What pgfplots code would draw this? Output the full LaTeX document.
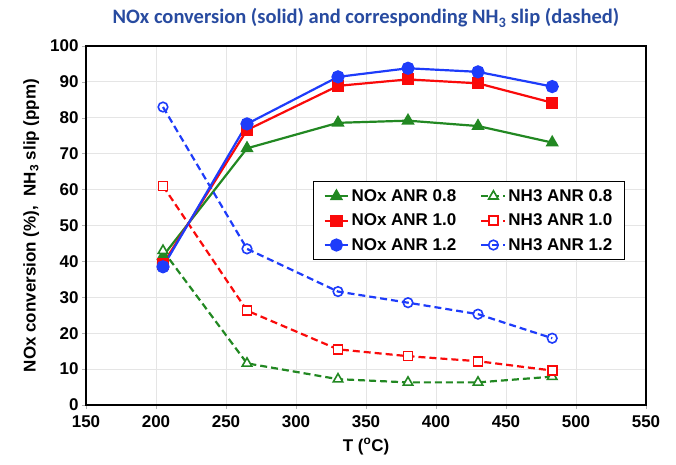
\documentclass[border=0pt]{standalone}
\usepackage{fontspec}
\setmainfont{Liberation Sans}
\newfontfamily\titlefont{Carlito}
\usepackage{pgfplots}
\pgfplotsset{compat=1.18}
\definecolor{cgreen}{RGB}{34,136,34}
\definecolor{cred}{RGB}{250,10,10}
\definecolor{cblue}{RGB}{30,60,250}
\definecolor{ctitle}{RGB}{40,75,160}
\begin{document}
\begin{tikzpicture}
\begin{axis}[
  scale only axis, width=560pt, height=359pt,
  xmin=150, xmax=550, ymin=0, ymax=100,
  xtick distance=50, ytick distance=10,
  grid=major, major grid style={gray!20, line width=0.8pt},
  axis line style={line width=1.6pt, black},
  tick style={gray!60, line width=0.6pt}, tick align=outside, major tick length=4pt,
  xtick pos=bottom, ytick pos=left,
  /pgf/number format/assume math mode=true,
  ticklabel style={font=\fontsize{17}{20}\selectfont\bfseries},
  xticklabel style={yshift=-3pt},
  xlabel={T (\textsuperscript{o}C)},
  ylabel={NOx conversion (\%),\ \ NH\textsubscript{3} slip (ppm)},
  label style={font=\fontsize{17}{20}\selectfont\bfseries},
  xlabel style={yshift=-4pt},
  ylabel style={yshift=4pt},
  title={\titlefont\bfseries\color{ctitle}NOx conversion (solid) and corresponding NH\textsubscript{3} slip (dashed)},
  title style={font=\fontsize{20.5}{24}\selectfont, yshift=9pt},
  legend columns=2,
  legend style={at={(0.405,0.624)}, anchor=north west, draw=black, line width=1.2pt,
    font=\fontsize{17}{20}\selectfont\bfseries, row sep=7pt,
    /tikz/every even column/.append style={column sep=22pt},
    inner xsep=10pt, inner ysep=6pt},
  legend cell align=left,
  legend image code/.code={
    \draw[mark repeat=2, mark phase=2] plot coordinates {(0cm,0cm) (0.42cm,0cm) (0.84cm,0cm)};},
  every axis plot/.append style={line width=2.2pt},
]
\addplot[cgreen, mark=triangle*, mark size=5.5pt, mark options={solid}] coordinates {
 (205,41.5) (265,71.5) (330,78.6) (380,79.2) (430,77.7) (483,73.1)};
\addlegendentry{NOx ANR 0.8}
\addplot[cgreen, dash pattern=on 7pt off 4pt, mark=triangle*, mark size=5.5pt, mark options={solid, fill=white, line width=1.6pt}] coordinates {
 (205,43) (265,11.6) (330,7.2) (380,6.3) (430,6.3) (483,7.9)};
\addlegendentry{NH3 ANR 0.8}
\addplot[cred, mark=square*, mark size=5pt, mark options={solid}] coordinates {
 (205,39.3) (265,76.6) (330,88.9) (380,90.7) (430,89.6) (483,84.2)};
\addlegendentry{NOx ANR 1.0}
\addplot[cred, dash pattern=on 7pt off 4pt, mark=square*, mark size=4.5pt, mark options={solid, fill=white, line width=1.6pt}] coordinates {
 (205,61) (265,26.3) (330,15.5) (380,13.6) (430,12.2) (483,9.6)};
\addlegendentry{NH3 ANR 1.0}
\addplot[cblue, mark=*, mark size=5.5pt, mark options={solid}] coordinates {
 (205,38.5) (265,78.3) (330,91.4) (380,93.8) (430,92.8) (483,88.7)};
\addlegendentry{NOx ANR 1.2}
\addplot[cblue, dash pattern=on 7pt off 4pt, mark=o, mark size=4.8pt, mark options={solid, fill=white, line width=1.6pt}] coordinates {
 (205,83) (265,43.5) (330,31.6) (380,28.5) (430,25.3) (483,18.6)};
\addlegendentry{NH3 ANR 1.2}
\end{axis}
\pgfresetboundingbox
\path[use as bounding box] ([shift={(-86pt,-59pt)}]current axis.south west) rectangle ++(676pt,464pt);
\end{tikzpicture}
\end{document}
